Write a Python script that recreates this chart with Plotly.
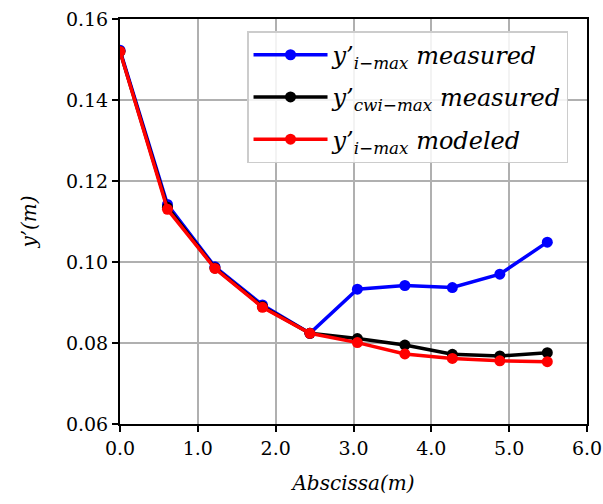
import plotly.graph_objects as go

x_abscissa = [0.0, 0.61, 1.22, 1.83, 2.44, 3.05, 3.66, 4.27, 4.88, 5.49]
y_i_max_measured = [0.1523, 0.1142, 0.0988, 0.0894, 0.0824, 0.0933, 0.0942, 0.0937, 0.0970, 0.1049]
y_cwi_max_measured = [0.1520, 0.1135, 0.0985, 0.0890, 0.0824, 0.0811, 0.0795, 0.0772, 0.0768, 0.0776]
y_i_max_modeled = [0.1520, 0.1130, 0.0984, 0.0888, 0.0824, 0.0801, 0.0773, 0.0762, 0.0756, 0.0754]

names = [
    "<i>y’<sub>i−max</sub> measured</i>",
    "<i>y’<sub>cwi−max</sub> measured</i>",
    "<i>y’<sub>i−max</sub> modeled</i>",
]
colors = ["#0000ff", "#000000", "#ff0000"]
series = [y_i_max_measured, y_cwi_max_measured, y_i_max_modeled]

FONT = "DejaVu Serif"

fig = go.Figure()
for i, (n, c, ys) in enumerate(zip(names, colors, series)):
    fig.add_trace(go.Scatter(
        x=x_abscissa, y=ys, name=n, mode="lines+markers",
        legendgroup=f"g{i}",
        line=dict(color=c, width=3.5),
        marker=dict(color=c, size=11),
    ))

axis_common = dict(
    showline=True, linecolor="black", linewidth=2, mirror=True,
    ticks="outside", ticklen=6, tickwidth=1.5, tickcolor="black",
    showgrid=True, gridcolor="#b0b0b0", gridwidth=1.5,
    zeroline=False, automargin=False,
    tickfont=dict(family=FONT, size=19, color="black"),
)

fig.update_layout(
    width=603, height=504,
    margin=dict(l=120, r=16, t=19, b=80),
    paper_bgcolor="white", plot_bgcolor="white",
    font=dict(family=FONT, color="black"),
    showlegend=True,
    legend=dict(
        x=0.272, y=0.97, xanchor="left", yanchor="top",
        bgcolor="rgba(255,255,255,0.85)", bordercolor="#cccccc", borderwidth=1.5,
        font=dict(family=FONT, size=24, color="black"),
        itemwidth=74, tracegroupgap=8,
    ),
    xaxis=dict(
        range=[0, 6], tickvals=[0, 1, 2, 3, 4, 5, 6],
        ticktext=["0.0", "1.0", "2.0", "3.0", "4.0", "5.0", "6.0"],
        title=dict(text="<i>Abscissa(m)</i>", font=dict(family=FONT, size=20), standoff=18),
        **axis_common,
    ),
    yaxis=dict(
        range=[0.06, 0.16], tickvals=[0.06, 0.08, 0.10, 0.12, 0.14, 0.16],
        ticktext=["0.06", "0.08", "0.10", "0.12", "0.14", "0.16"],
        title=dict(text="<i>y’(m)</i>", font=dict(family=FONT, size=20), standoff=24),
        **axis_common,
    ),
)

fig.write_html("out.html")
